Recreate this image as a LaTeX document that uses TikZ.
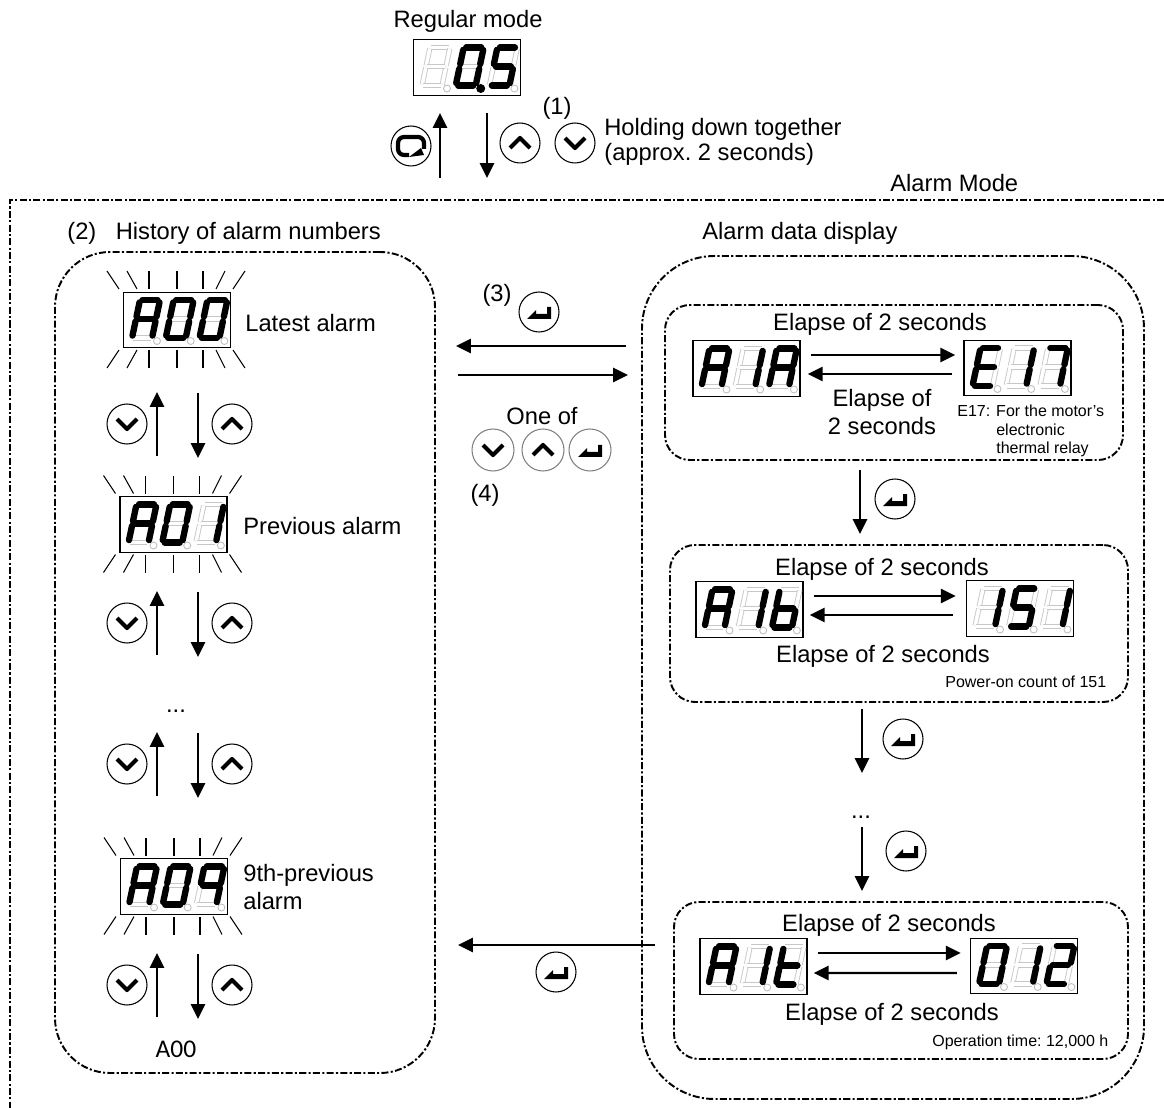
\documentclass[tikz,border=0pt]{standalone}
\usepackage{fontspec}
\setmainfont{Liberation Sans}
\newfontfamily\labelfont{Carlito}
\usetikzlibrary{arrows.meta, fit, shapes.geometric}
\frenchspacing

% segments of each digit, as pairs of corners
\def\digBlank{}
\def\digA{bl/ml,ml/tl,tl/tr,tr/mr,mr/br,ml/mr}
\def\digZero{bl/ml,ml/tl,tl/tr,tr/mr,mr/br,br/bl}
\def\digOne{tr/mr,mr/br}
\def\digTwo{tl/tr,tr/mr,mr/ml,ml/bl,bl/br}
\def\digFive{tl/tr,tl/ml,ml/mr,mr/br,br/bl}
\def\digSeven{tl/tr,tr/mr,mr/br}
\def\digNine{tl/tr,tr/mr,mr/br,tl/ml,ml/mr}
\def\digE{tl/tr,tl/ml,ml/bl,bl/br,ml/mr}
\def\digb{tl/ml,ml/bl,bl/br,br/mr,mr/ml}
\def\digt{tl/ml,ml/bl,bl/br,ml/mr}

\newcommand{\segdigit}[3]{%
	\begin{scope}[shift={(#1,18)}]
		\coordinate (bl) at (0,0);
		\coordinate (br) at (20,0);
		\coordinate (ml) at (4,-19);
		\coordinate (mr) at (24,-19);
		\coordinate (tl) at (8,-38);
		\coordinate (tr) at (28,-38);
		\foreach \p/\q in {bl/ml,ml/tl,tl/tr,tr/mr,mr/br,br/bl,ml/mr}
			{\draw[dimseg] (\p) -- (\q);}
		\node[#3] (dot) at (25,3) {};
		\ifx#2\digBlank\else
			\foreach \p/\q in #2 {\draw[litseg] (\p) -- (\q);}
		\fi
	\end{scope}}

\newcommand{\segdisplay}[6][dimdot]{%
	\node[dispbox] (#2) at (#3) {};
	\begin{scope}[shift={(#2.center)}]
		\segdigit{-45}{#4}{dimdot}
		\segdigit{-11.3}{#5}{#1}
		\segdigit{22.4}{#6}{dimdot}
	\end{scope}}

% the rays of a blinking display
\newcommand{\blinkrays}[1]{%
	\foreach \ox/\ix in {-70/-58,-50/-40,-28/-28,0/0,26/26,48/39,68/56} {
		\draw[ray] ([shift={(\ix,-31)}]#1.center) -- ([shift={(\ox,-49)}]#1.center);
		\draw[ray] ([shift={(\ix,30)}]#1.center) -- ([shift={(\ox,48)}]#1.center);
	}}

\def\glyphUp{\draw[glyphline] (-10,5) -- (0,-5) -- (10,5);}
\def\glyphDown{\draw[glyphline] (-10,-5) -- (0,5) -- (10,-5);}
\def\glyphEnter{\fill (-12,7) -- (-3,-2) -- (-3,2) -- (8,2) -- (8,-5) -- (12,-5) -- (12,7) -- cycle;}
\def\glyphMode{\draw[glyphline, rounded corners=0.12cm] (-2,9) -- (-13,9) -- (-13,-9) -- (13,-9) -- (13,3);
	\fill (-2,11) -- (10,2) -- (13,9) -- cycle;}

\newcommand{\keybtn}[4][keycircle]{%
	\node[#1] (#2) at (#3) {};
	\begin{scope}[shift={(#2.center)}]
		#4
	\end{scope}}

% one row of the alarm history: two keys and two arrows
\newcommand{\historyrow}[2]{%
	\keybtn{#1d}{127,#2}{\glyphDown}
	\keybtn{#1u}{232,#2}{\glyphUp}
	\draw[arrow] ([shift={(30,32)}]#1d.center) -- ([shift={(30,-32)}]#1d.center);
	\draw[arrow] ([shift={(-34,-31)}]#1u.center) -- ([shift={(-34,34)}]#1u.center);}

\begin{document}
\begin{tikzpicture}[
		x=0.02cm,
		y=-0.02cm,
		>={Triangle[length=8.5pt,width=8pt]},
		every node/.style={inner sep=0pt},
		arrow/.style={->, line width=1.4pt},
		bodytext/.style={font=\fontsize{13.5}{14.2}\selectfont, align=left},
		smalltext/.style={font=\fontsize{9.1}{10.4}\selectfont, align=left},
		dispbox/.style={draw, line width=0.8pt, minimum width=2.14cm, minimum height=1.11cm},
		dimseg/.style={draw=black!22, line width=0.5pt, double=white, double distance=2pt, shorten <=0.6pt, shorten >=0.6pt},
		litseg/.style={line width=3.6pt, line cap=round, shorten <=1.4pt, shorten >=1.4pt},
		dimdot/.style={circle, draw=black!25, fill=white, line width=0.5pt, minimum size=0.14cm},
		litdot/.style={circle, fill=black, minimum size=0.18cm},
		ray/.style={line width=0.6pt},
		keycircle/.style={circle, draw, line width=0.6pt, minimum size=0.8cm},
		graykey/.style={circle, draw=black!50, line width=0.6pt, minimum size=0.84cm},
		glyphline/.style={line width=2.4pt, line join=round},
		frameline/.style={line width=1.1pt, dash pattern=on 4pt off 1.3pt on 1.2pt off 1.3pt},
		panelbox/.style={frameline, draw, inner sep=0pt}
	]
	\useasboundingbox (0,0) rectangle (1164,1108);

	% frames
	\draw[frameline] (1164,200) -- (10,200) -- (10,1108);
	\node[panelbox, rounded corners=1.1cm, fit={(55,252) (435,1073)}] (pHistory) {};
	\node[panelbox, rounded corners=1.45cm, fit={(642,256) (1144,1099)}] (pData) {};
	\node[panelbox, rounded corners=0.5cm, fit={(665,305) (1123,460)}] (pFirst) {};
	\node[panelbox, rounded corners=0.5cm, fit={(670,545) (1128,702)}] (pSecond) {};
	\node[panelbox, rounded corners=0.5cm, fit={(674,902) (1128,1059)}] (pLast) {};

	% regular mode
	\node[bodytext] (tRegular) at (468,21) {Regular mode};
	\segdisplay[litdot]{dRegular}{467,67.5}{\digBlank}{\digZero}{\digFive}
	\keybtn{kMode}{411,146}{\glyphMode}
	\keybtn{kTopUp}{520,143}{\glyphUp}
	\keybtn{kTopDown}{575,143}{\glyphDown}
	\draw[arrow] ([shift={(-27,110.5)}]dRegular.center) -- ([shift={(-27,45.5)}]dRegular.center);
	\draw[arrow] ([shift={(20,45.5)}]dRegular.center) -- ([shift={(20,110.5)}]dRegular.center);
	\node[bodytext] (tOne) at (557,108) {(1)};
	\node[bodytext, anchor=west] (tHold) at (604,142) {Holding down together\\(approx. 2 seconds)};
	\node[bodytext, anchor=west] (tMode) at (890,183) {Alarm Mode};

	% history of alarm numbers
	\node[bodytext, anchor=west] (tTwo) at (67,233) {(2)\hspace{0.39cm}History of alarm numbers};
	\segdisplay{dA00}{177,320}{\digA}{\digZero}{\digZero}
	\blinkrays{dA00}
	\node[bodytext, anchor=west] (tLatest) at (245,323) {Latest alarm};
	\historyrow{rA}{424}
	\segdisplay{dA01}{173.5,524.5}{\digA}{\digZero}{\digOne}
	\blinkrays{dA01}
	\node[bodytext, anchor=west] (tPrevious) at (243,526) {Previous alarm};
	\historyrow{rB}{623}
	\node[bodytext] (tDotsLeft) at (176,711) {...};
	\historyrow{rC}{764}
	\segdisplay{dA09}{174,886.5}{\digA}{\digZero}{\digNine}
	\blinkrays{dA09}
	\node[bodytext, anchor=west] (tNinth) at (243,887) {9th-previous\\[2.2pt]alarm};
	\historyrow{rD}{985}
	\node[font=\labelfont\fontsize{14.5}{16}\selectfont] (tBack) at (176,1049) {A00};

	% between the two sides
	\node[bodytext] (tThree) at (497,295) {(3)};
	\keybtn{kEnterTop}{539,312}{\glyphEnter}
	\coordinate (aDataR) at (626,346);
	\coordinate (aHistR) at (456,346);
	\coordinate (aHistL) at (458,375);
	\coordinate (aDataL) at (628,375);
	\draw[arrow] (aDataR) -- (aHistR);
	\draw[arrow] (aHistL) -- (aDataL);
	\node[bodytext] (tOneOf) at (542,416) {One of};
	\keybtn[graykey]{kAnyDown}{493,450}{\glyphDown}
	\keybtn[graykey]{kAnyUp}{543,450}{\glyphUp}
	\keybtn[graykey]{kAnyEnter}{590,450}{\glyphEnter}
	\node[bodytext] (tFour) at (485,495) {(4)};
	\coordinate (aLastR) at (655,945);
	\coordinate (aLastL) at (458,945);
	\draw[arrow] (aLastR) -- (aLastL);
	\keybtn{kEnterBack}{556,972}{\glyphEnter}

	% alarm data display
	\node[bodytext, anchor=west] (tData) at (702,233) {Alarm data display};

	\node[bodytext] (tFirstTop) at (880,324) {Elapse of 2 seconds};
	\segdisplay{dA1A}{746.5,368.5}{\digA}{\digOne}{\digA}
	\segdisplay{dE17}{1017.5,368}{\digE}{\digOne}{\digSeven}
	\draw[arrow] ([shift={(10,-13.5)}]dA1A.east) -- ([shift={(-8,-13)}]dE17.west);
	\draw[arrow] ([shift={(-11,6)}]dE17.west) -- ([shift={(7,5.5)}]dA1A.east);
	\node[bodytext, align=center] (tFirstBack) at (882,412) {Elapse of\\[2.2pt]2 seconds};
	\node[smalltext, anchor=north west] (tE17) at (957,405) {E17:\hspace{0.12cm}For the motor's\\\hspace*{0.78cm}electronic\\\hspace*{0.78cm}thermal relay};

	\node[bodytext] (tSecondTop) at (882,569) {Elapse of 2 seconds};
	\segdisplay{dA1b}{749.5,609.5}{\digA}{\digOne}{\digb}
	\segdisplay{d151}{1020,608.5}{\digOne}{\digFive}{\digOne}
	\draw[arrow] ([shift={(10,-13.5)}]dA1b.east) -- ([shift={(-10,-12.5)}]d151.west);
	\draw[arrow] ([shift={(-13,6.5)}]d151.west) -- ([shift={(6,5.5)}]dA1b.east);
	\node[bodytext] (tSecondBack) at (883,656) {Elapse of 2 seconds};
	\node[smalltext, anchor=west] (t151) at (945,682) {Power-on count of 151};

	\node[bodytext] (tLastTop) at (889,925) {Elapse of 2 seconds};
	\segdisplay{dA1t}{753.5,966.5}{\digA}{\digOne}{\digt}
	\segdisplay{d012}{1024,966}{\digZero}{\digOne}{\digTwo}
	\draw[arrow] ([shift={(10,-13.5)}]dA1t.east) -- ([shift={(-9,-13)}]d012.west);
	\draw[arrow] ([shift={(-13,7)}]d012.west) -- ([shift={(6,6.5)}]dA1t.east);
	\node[bodytext] (tLastBack) at (892,1014) {Elapse of 2 seconds};
	\node[smalltext, anchor=west] (tHours) at (932,1042) {Operation time: 12,000 h};

	\node[bodytext] (tDotsRight) at (861,817) {...};
	\keybtn{kEnterA}{895,499}{\glyphEnter}
	\keybtn{kEnterB}{903,739}{\glyphEnter}
	\keybtn{kEnterC}{906,851}{\glyphEnter}
	\draw[arrow, shorten <=5pt, shorten >=5.7pt] ([shift={(-34,0)}]pFirst.south) -- ([shift={(-39,0)}]pSecond.north);
	\draw[arrow, shorten <=3.4pt] ([shift={(-37,0)}]pSecond.south) -- ([shift={(1,-44)}]tDotsRight.center);
	\draw[arrow] ([shift={(1,10)}]tDotsRight.center) -- ([shift={(-39,-10)}]pLast.north);
\end{tikzpicture}
\end{document}
